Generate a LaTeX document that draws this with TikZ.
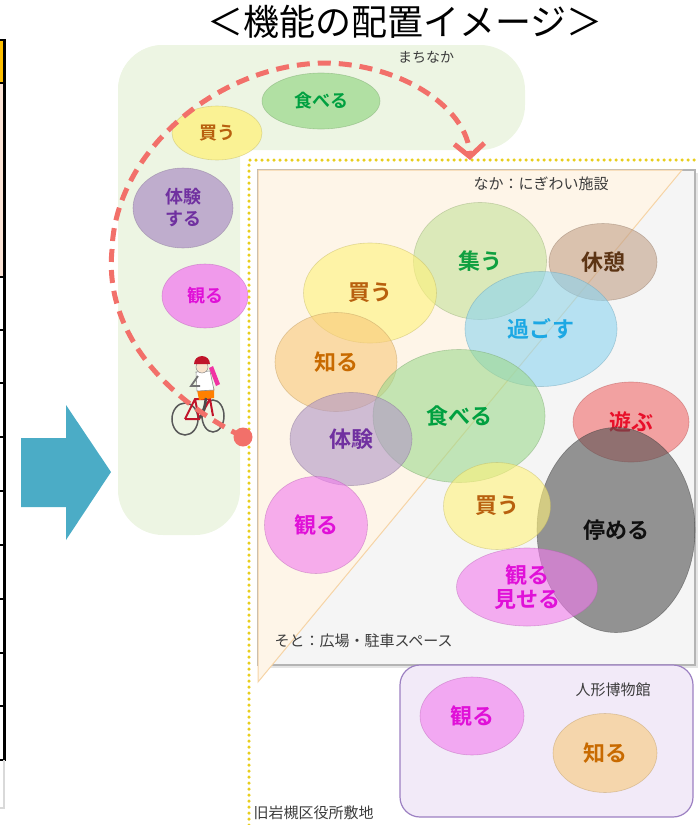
\documentclass[tikz,border=0pt]{standalone}
\usepackage{fontspec}
\setmainfont{Noto Sans CJK JP}[BoldFont={Noto Sans CJK JP Bold}]
\usepackage{tikz}
\usetikzlibrary{shapes.geometric,arrows.meta,positioning}

\definecolor{machi}{HTML}{EDF5E3}
\definecolor{notegray}{HTML}{3C3C3C}
\definecolor{routered}{HTML}{F2706A}
\definecolor{dotyellow}{HTML}{E8CE1E}
\definecolor{boxgray}{HTML}{F5F5F5}
\definecolor{boxline}{HTML}{B4B4B4}
\definecolor{sotoF}{HTML}{FEF5E8}
\definecolor{sotoL}{HTML}{F6D4A6}
\definecolor{kanF}{HTML}{F2EAF8}
\definecolor{kanL}{HTML}{9C80C2}
\definecolor{arrowblue}{HTML}{4BACC6}
\definecolor{headorange}{HTML}{FFC000}
\definecolor{rowpeach}{HTML}{FCE4D6}
\definecolor{tabeF}{HTML}{9ED98E}\definecolor{tabeT}{HTML}{00A040}
\definecolor{kauF}{HTML}{FFF27A}\definecolor{kauT}{HTML}{B8600E}
\definecolor{taikenF}{HTML}{B096C6}\definecolor{taikenT}{HTML}{7030A0}
\definecolor{miruF}{HTML}{F27CEE}\definecolor{miruT}{HTML}{E010D8}
\definecolor{shiruF}{HTML}{F8C97A}\definecolor{shiruT}{HTML}{C86A00}
\definecolor{tsudouF}{HTML}{C4E29A}\definecolor{tsudouT}{HTML}{10A040}
\definecolor{kyukeiF}{HTML}{C2A088}\definecolor{kyukeiT}{HTML}{5C3414}
\definecolor{sugosuF}{HTML}{8CD4F0}\definecolor{sugosuT}{HTML}{1CA8E4}
\definecolor{asobuF}{HTML}{F06A6A}\definecolor{asobuT}{HTML}{E8102A}
\definecolor{tomeruF}{HTML}{505050}\definecolor{tomeruT}{HTML}{101010}
\definecolor{bikered}{HTML}{C0142A}
\definecolor{skin}{HTML}{F8E2CC}

\begin{document}
\begin{tikzpicture}[x=1pt,y=-1pt,
    spot/.style={ellipse,inner sep=0pt,align=center,line width=0.6pt,
      fill opacity=0.6,draw opacity=0.45,text opacity=1,
      font=\bfseries\fontsize{22}{24}\selectfont},
    small spot/.style={spot,fill opacity=0.75,font=\bfseries\fontsize{18}{22}\selectfont},
    sz/.style 2 args={minimum width=#1pt,minimum height=#2pt},
    tone/.style 2 args={fill=#1,draw=#1!75!black,text=#2},
    note/.style={text=notegray,font=\fontsize{15}{17}\selectfont},
    dots/.style={draw=dotyellow,line width=3.5pt,line cap=round,dash pattern=on 0pt off 6pt},
    route/.style={draw=routered,line width=5pt,dash pattern=on 13pt off 8pt,
      -{Straight Barb[length=13pt,width=30pt]}}]
  \useasboundingbox (0,0) rectangle (699,825);

  % table edge on the left
  \fill[headorange] (0,40) rectangle (4,83);
  \fill[rowpeach] (0,83) rectangle (4,277);
  \draw[line width=3pt] (4,40) -- (4,760);
  \foreach \y in {40,83,277,330,383,437,491,545,599,653,706,760}
    \draw[line width=1.5pt] (0,\y) -- (6,\y);
  \draw[black!15,line width=2pt] (4,760) -- (4,808) -- (0,808);

  % arrow
  \fill[arrowblue] (21,438) -- (66,438) -- (66,405) -- (111,472) -- (66,540) -- (66,507) -- (21,507) -- cycle;

  \node (title) at (405,22) {\fontsize{36}{40}\selectfont ＜機能の配置イメージ＞};

  % machinaka
  \fill[machi,rounded corners=45pt] (118,45) rectangle (525,150);
  \fill[machi,rounded corners=45pt] (118,45) rectangle (240,535);
  \node[note,font=\fontsize{14}{16}\selectfont] (machinaka) at (426,57) {まちなか};

  \node[small spot,tone={tabeF}{tabeT},sz={118}{56}] (o-tabe) at (321,101) {食べる};
  \node[small spot,tone={kauF}{kauT},sz={90}{54}] (o-kau) at (217,133) {買う};
  \node[small spot,tone={taikenF}{taikenT},sz={100}{80}] (o-taiken) at (183,208) {体験\\する};
  \node[small spot,tone={miruF}{miruT},sz={86}{64}] (o-miru) at (205,296) {観る};

  % site
  \draw[dots] (249,825) -- (249,160) -- (699,160);
  \fill[black!10] (261,173) rectangle (698,668);
  \filldraw[fill=boxgray,draw=boxline,line width=1.2pt] (258,170) rectangle (695,665);
  \filldraw[fill=sotoF,draw=sotoL,line width=1pt] (258,170) -- (682,170) -- (258,682) -- cycle;
  \node[note] (naka) at (541,184) {なか：にぎわい施設};
  \node[note,anchor=west] (soto) at (271,641) {そと：広場・駐車スペース};

  \node[spot,tone={tsudouF}{tsudouT},sz={133}{117}] (tsudou) at (480,261) {集う};
  \node[spot,tone={kyukeiF}{kyukeiT},sz={108}{77}] (kyukei) at (603,262) {休憩};
  \node[spot,tone={kauF}{kauT},sz={133}{100}] (kau) at (370,293) {買う};
  \node[spot,tone={sugosuF}{sugosuT},sz={152}{115}] (sugosu) at (541,329) {過ごす};
  \node[spot,tone={shiruF}{shiruT},sz={122}{99}] (shiru) at (336,362) {知る};
  \node[spot,tone={tabeF}{tabeT},sz={172}{133}] (tabe) at (459,416) {食べる};
  \node[spot,tone={taikenF}{taikenT},sz={122}{93}] (taiken) at (351,439) {体験};
  \node[spot,tone={asobuF}{asobuT},sz={116}{80}] (asobu) at (631,422) {遊ぶ};
  \node[spot,tone={miruF}{miruT},sz={103}{97}] (miru) at (316,525) {観る};
  \node[spot,tone={tomeruF}{tomeruT},sz={158}{205}] (tomeru) at (616,530) {停める};
  \node[spot,tone={kauF}{kauT},sz={107}{87}] (kau2) at (497,506) {買う};
  \node[spot,tone={miruF}{miruT},sz={141}{78}] (miseru) at (527,587) {観る\\見せる};

  % museum
  \filldraw[fill=kanF,draw=kanL,line width=1.2pt,rounded corners=20pt] (400,665) rectangle (693,817);
  \node[note] (museum) at (613,690) {人形博物館};
  \node[spot,tone={miruF}{miruT},sz={104}{78}] (m-miru) at (472,716) {観る};
  \node[spot,tone={shiruF}{shiruT},sz={104}{79}] (m-shiru) at (605,753) {知る};

  \node[note,anchor=west] (site) at (250,813) {旧岩槻区役所敷地};

  % cyclist
  \draw[black!65,line width=1.5pt] (185,419) ellipse [x radius=13,y radius=16];
  \draw[black!65,line width=1.5pt] (213,416) ellipse [x radius=11,y radius=16];
  \draw[bikered,line width=2pt] (185,419) -- (195,399) -- (210,399) -- (213,416)
    (195,399) -- (199,419) -- (185,419) (199,419) -- (210,399)
    (210,399) -- (207,388) -- (200,386);
  \fill[orange] (197,390) -- (214,388) -- (214,398) -- (199,400) -- cycle;
  \draw[black!70,line width=2.5pt] (206,398) -- (204,410) -- (200,418);
  \filldraw[fill=white,draw=black!45,line width=0.6pt] (196,372) -- (210,371) -- (214,390) -- (197,391) -- cycle;
  \draw[black!55,line width=1.8pt] (198,376) -- (191,386) -- (200,386);
  \fill[magenta!80] (209,368) -- (213,366) -- (220,384) -- (216,386) -- cycle;
  \filldraw[fill=skin,draw=black!45,line width=0.5pt] (202,367) circle [radius=6];
  \fill[bikered] (194,364) arc [start angle=180,end angle=360,radius=8] -- cycle;

  % route
  \node[circle,fill=routered,inner sep=0pt,minimum size=19pt] (start) at (243,437) {};
  \coordinate (goal) at (470,160);
  \draw[route] (start.center) .. controls (150,390) and (105,320) .. (112,250)
    .. controls (115,150) and (220,63) .. (327,63)
    .. controls (405,65) and (468,110) .. (goal);
\end{tikzpicture}
\end{document}
